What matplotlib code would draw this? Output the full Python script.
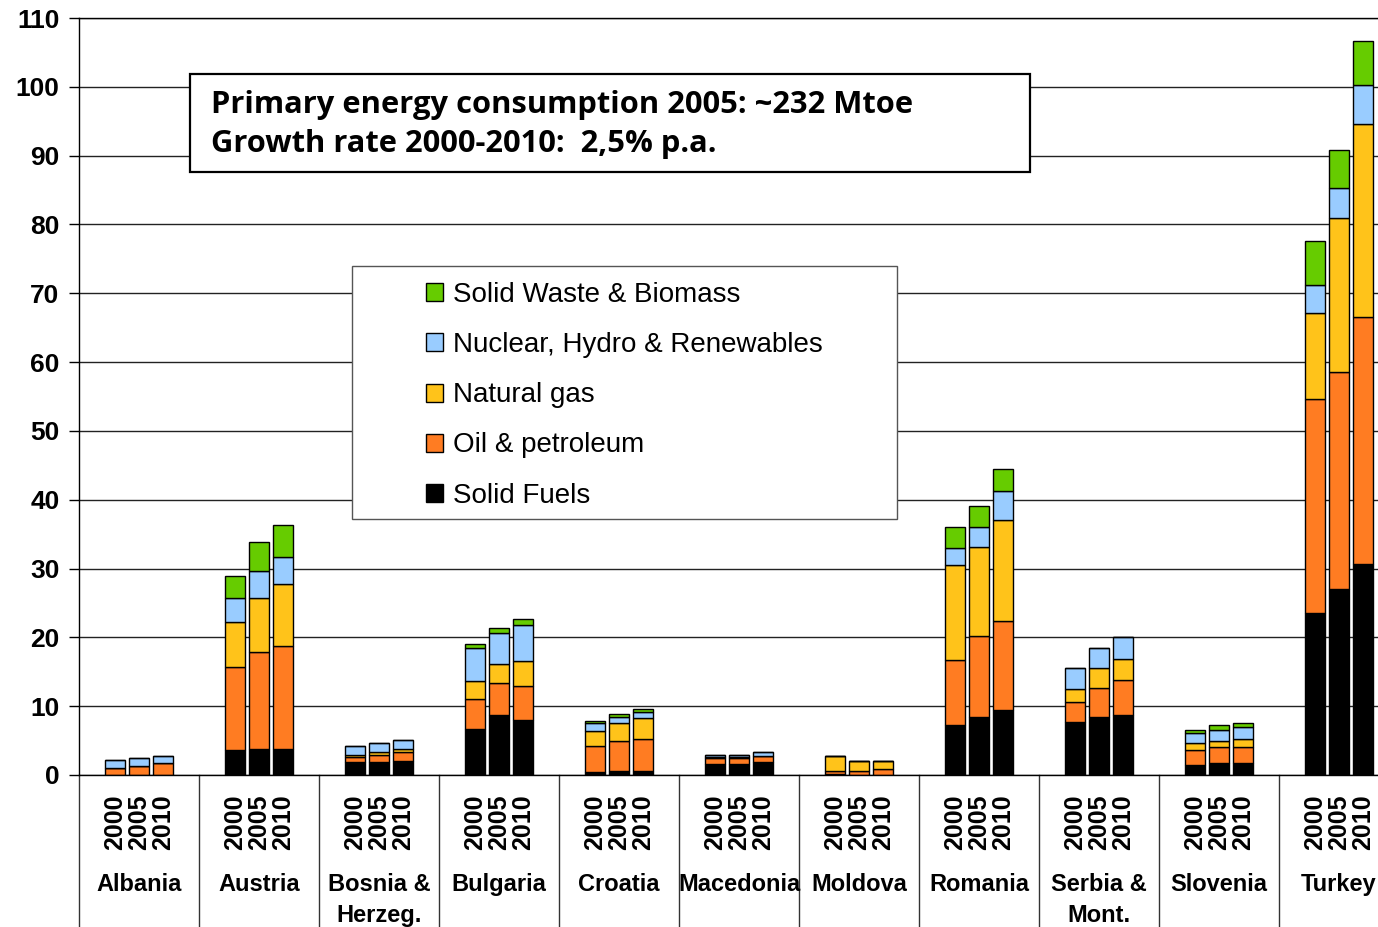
#===========================================
# Stacked bar chart: primary energy consumption by source, SE Europe
#===========================================
import numpy as np
import matplotlib.pyplot as plt
import matplotlib.transforms as mtransforms
from matplotlib.patches import Rectangle, Patch

plt.rcParams['font.family'] = ['Liberation Sans', 'DejaVu Sans']

#===========================================
# Data (Mtoe), one triple per country: 2000, 2005, 2010
countries = ["Albania", "Austria", "Bosnia &\nHerzeg.", "Bulgaria", "Croatia",
             "Macedonia", "Moldova", "Romania", "Serbia &\nMont.", "Slovenia", "Turkey"]
years = ["2000", "2005", "2010"]

solid_fuels = [[0.05, 0.05, 0.05], [3.6, 3.8, 3.8], [1.85, 1.85, 2.0], [6.7, 8.7, 7.95],
               [0.45, 0.6, 0.6], [1.65, 1.65, 1.85], [0.1, 0.05, 0.05], [7.3, 8.5, 9.5],
               [7.75, 8.5, 8.7], [1.4, 1.8, 1.7], [23.5, 27.0, 30.7]]
oil = [[0.9, 1.3, 1.75], [12.1, 14.1, 15.0], [0.7, 1.05, 1.35], [4.3, 4.7, 4.95],
       [3.8, 4.4, 4.65], [0.85, 0.85, 0.85], [0.45, 0.6, 0.8], [9.4, 11.7, 12.9],
       [2.85, 4.2, 5.1], [2.3, 2.3, 2.35], [31.2, 31.5, 35.9]]
natural_gas = [[0.0, 0.0, 0.0], [6.5, 7.8, 8.9], [0.3, 0.4, 0.4], [2.7, 2.7, 3.6],
               [2.2, 2.6, 3.1], [0.05, 0.05, 0.05], [2.15, 1.35, 1.25], [13.8, 13.0, 14.6],
               [1.95, 2.8, 3.05], [1.0, 0.9, 1.2], [12.5, 22.5, 28.0]]
nuclear_hydro = [[1.25, 1.05, 1.0], [3.5, 4.0, 4.0], [1.3, 1.4, 1.4], [4.7, 4.5, 5.25],
                 [1.05, 0.85, 0.8], [0.4, 0.35, 0.6], [0.0, 0.0, 0.0], [2.5, 2.9, 4.2],
                 [2.95, 3.0, 3.25], [1.4, 1.6, 1.75], [4.0, 4.3, 5.7]]
biomass = [[0.0, 0.0, 0.0], [3.2, 4.1, 4.7], [0.0, 0.0, 0.0], [0.7, 0.7, 0.9],
           [0.35, 0.4, 0.45], [0.0, 0.0, 0.0], [0.0, 0.0, 0.0], [3.0, 3.0, 3.2],
           [0.0, 0.0, 0.0], [0.4, 0.6, 0.5], [6.4, 5.5, 6.3]]

series_names = ["Solid Fuels", "Oil & petroleum", "Natural gas",
                "Nuclear, Hydro & Renewables", "Solid Waste & Biomass"]
series_colors = ["#000000", "#FF7C22", "#FFC31A", "#99CCFF", "#66CC00"]
series_data = [solid_fuels, oil, natural_gas, nuclear_hydro, biomass]

#===========================================
W, H = 1378, 927
fig = plt.figure(figsize=(W / 100, H / 100), dpi=100)
# axes run past the right edge, as in the cropped original
ax = fig.add_axes([79 / W, (H - 775) / H, (1399 - 79) / W, (775 - 18) / H])

n = len(countries)
offsets = np.array([-0.2, 0.0, 0.2])
xpos = (np.arange(n)[:, None] + offsets[None, :]).ravel()

bottom = np.zeros(len(xpos))
for vals, col, name in zip(series_data, series_colors, series_names):
    v = np.array(vals).ravel()
    ax.bar(xpos, v, width=0.16, bottom=bottom, color=col, edgecolor='black',
           linewidth=1.0, label=name, zorder=2)
    bottom += v

ax.set_xlim(-0.5, n - 0.5)
ax.set_ylim(0, 110)
ax.set_yticks(np.arange(0, 111, 10))
ax.tick_params(axis='y', labelsize=19, length=7, width=1, pad=7)
for lbl in ax.get_yticklabels():
    lbl.set_fontweight('bold')
ax.yaxis.grid(True, color='#222222', linewidth=1.0)
ax.set_axisbelow(True)

ax.set_xticks(xpos)
ax.set_xticklabels(years * n, rotation=90, fontsize=18, fontweight='bold')
ax.tick_params(axis='x', length=0, pad=14)

for s in ['left', 'top', 'bottom']:
    ax.spines[s].set_linewidth(1.0)
ax.spines['right'].set_visible(False)

# category separators under the axis
trans = mtransforms.blended_transform_factory(ax.transData, ax.transAxes)
for xb in np.arange(-0.5, n, 1.0):
    ax.plot([xb, xb], [0, -0.25], transform=trans, color='#333333',
            linewidth=1.0, clip_on=False)

for i, name in enumerate(countries):
    ax.text(i, -0.130, name, transform=trans, ha='center', va='top',
            fontsize=17, fontweight='bold', linespacing=1.42)

# title box
ax.add_patch(Rectangle((190 / W, 1 - 172 / H), 840 / W, 98 / H, transform=fig.transFigure,
                       facecolor='white', edgecolor='black', linewidth=1.6,
                       zorder=4, clip_on=False))
ax.text(211 / W, 1 - 105 / H, "Primary energy consumption 2005: ~232 Mtoe",
        transform=fig.transFigure, fontsize=22.2, fontweight='bold', va='center',
        family='Open Sans', zorder=5)
ax.text(211 / W, 1 - 144 / H, "Growth rate 2000-2010:  2,5% p.a.",
        transform=fig.transFigure, fontsize=22.2, fontweight='bold', va='center',
        family='Open Sans', zorder=5)

# legend box
ax.add_patch(Rectangle((352 / W, 1 - 519 / H), 545 / W, 253 / H, transform=fig.transFigure,
                       facecolor='white', edgecolor='#555555', linewidth=1.0,
                       zorder=4, clip_on=False))
handles = [Patch(facecolor=c, edgecolor='black', linewidth=1.0, label=nm)
           for c, nm in zip(series_colors, series_names)][::-1]
leg = ax.legend(handles=handles, loc='upper left', bbox_to_anchor=(426 / W, 1 - 282 / H),
                bbox_transform=fig.transFigure, frameon=False, fontsize=20,
                handlelength=0.62, handleheight=0.62, handletextpad=0.35,
                labelspacing=0.87, borderpad=0, borderaxespad=0)
leg.set_zorder(5)

fig.savefig("out.png", dpi=100)
